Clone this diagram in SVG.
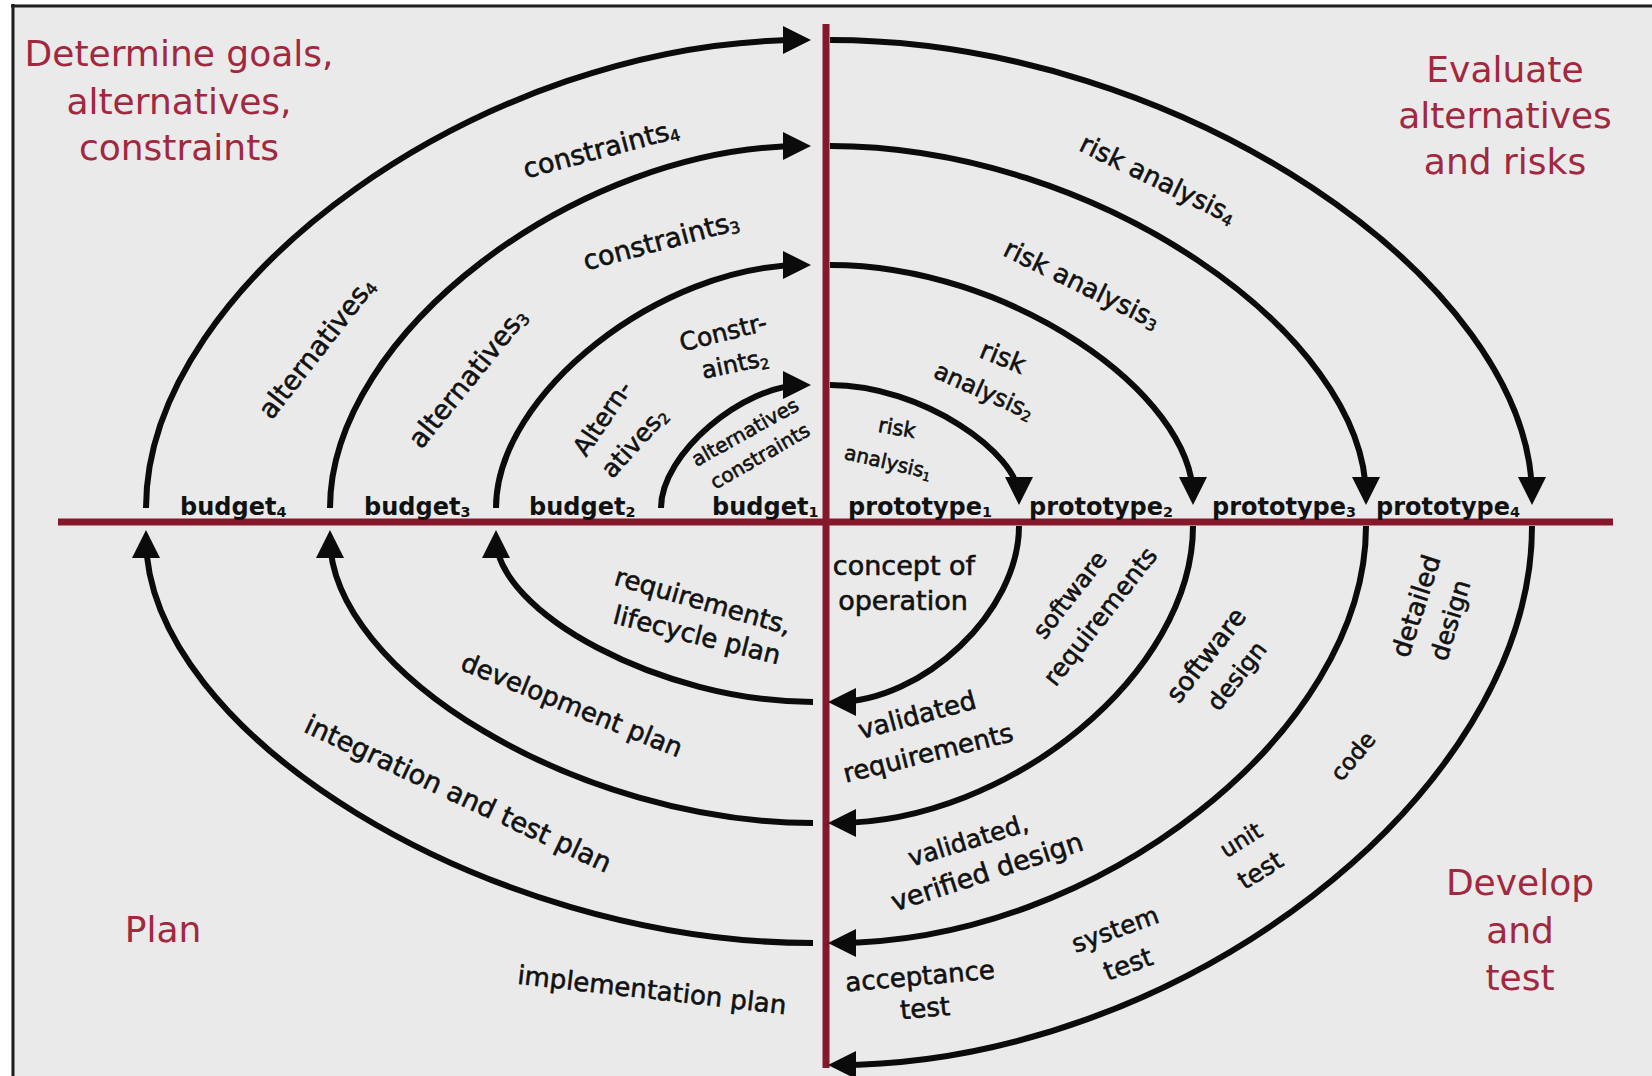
<svg xmlns="http://www.w3.org/2000/svg" width="1652" height="1076" viewBox="0 0 1652 1076">
<style>
.arc{fill:none;stroke:#0b0b0b;stroke-width:6;marker-end:url(#ah)}
.axis{stroke:#86182c;stroke-width:7}
.title{font-family:"DejaVu Sans",sans-serif;font-size:36px;fill:#a1283e;text-anchor:middle}
.lbl{font-family:"DejaVu Sans",sans-serif;font-size:26px;fill:#111;stroke:#111;stroke-width:0.6;text-anchor:middle}
.ax{font-family:"DejaVu Sans",sans-serif;font-weight:bold;font-size:24px;fill:#111}
.sub{font-size:60%}
</style>
<defs>
<marker id="ah" markerUnits="userSpaceOnUse" markerWidth="28" markerHeight="28" viewBox="0 0 28 28" refX="20" refY="14" orient="auto">
<path d="M0,0 L28,14 L0,28 z" fill="#0b0b0b"/>
</marker>
</defs>
<rect x="0" y="0" width="1652" height="1076" fill="#ffffff"/>
<rect x="11" y="4" width="1641" height="1072" fill="#eaeaea"/>
<line x1="11" y1="6" x2="1652" y2="6" stroke="#1e1e1e" stroke-width="3"/>
<line x1="13" y1="4" x2="13" y2="1076" stroke="#1e1e1e" stroke-width="3"/>

<g id="axes">
<line class="axis" x1="58" y1="522" x2="1613" y2="522"/>
<line class="axis" x1="826" y1="24" x2="826" y2="1068"/>
</g>

<g id="connectors">
<path class="arc" d="M661,508 C661,453.5 743.5,385 803,385"/>
<path class="arc" d="M830,385 C922.5,385 1019,453.5 1019,497"/>
<path class="arc" d="M1019,526 C1019,612 922.5,702 836,702"/>
<path class="arc" d="M813,702 C661,702 496,612 496,538"/>
<path class="arc" d="M496,508 C496,393.5 661,265 803,265"/>
<path class="arc" d="M830,265 C1009.5,265 1193,393.5 1193,497"/>
<path class="arc" d="M1193,526 C1193,672.5 1009.5,823 836,823"/>
<path class="arc" d="M813,823 C578,823 330,672.5 330,538"/>
<path class="arc" d="M330,508 C330,334 578,146 803,146"/>
<path class="arc" d="M830,146 C1096,146 1366,334 1366,497"/>
<path class="arc" d="M1366,526 C1366,732.5 1096,943 836,943"/>
<path class="arc" d="M813,943 C486,943 146,732.5 146,538"/>
<path class="arc" d="M146,508 C146,281 486,40 803,40"/>
<path class="arc" d="M830,40 C1179,40 1532,281 1532,497"/>
<path class="arc" d="M1532,526 C1532,793.5 1179,1065 836,1065"/>
</g>

<g id="q-determine"><text class="title" x="179" y="66">Determine goals,</text><text class="title" x="179" y="114">alternatives,</text><text class="title" x="179" y="160">constraints</text></g>
<g id="q-evaluate"><text class="title" x="1505" y="82">Evaluate</text><text class="title" x="1505" y="128">alternatives</text><text class="title" x="1505" y="174">and risks</text></g>
<g id="q-plan"><text class="title" x="163" y="942">Plan</text></g>
<g id="q-develop"><text class="title" x="1520" y="895">Develop</text><text class="title" x="1520" y="943">and</text><text class="title" x="1520" y="990">test</text></g>

<g id="budget4"><text class="ax" x="180" y="515">budget<tspan class="sub" dy="2">4</tspan></text></g>
<g id="budget3"><text class="ax" x="364" y="515">budget<tspan class="sub" dy="2">3</tspan></text></g>
<g id="budget2"><text class="ax" x="529" y="515">budget<tspan class="sub" dy="2">2</tspan></text></g>
<g id="budget1"><text class="ax" x="712" y="515">budget<tspan class="sub" dy="2">1</tspan></text></g>
<g id="prototype1"><text class="ax" x="848" y="515">prototype<tspan class="sub" dy="2">1</tspan></text></g>
<g id="prototype2"><text class="ax" x="1029" y="515">prototype<tspan class="sub" dy="2">2</tspan></text></g>
<g id="prototype3"><text class="ax" x="1212" y="515">prototype<tspan class="sub" dy="2">3</tspan></text></g>
<g id="prototype4"><text class="ax" x="1376" y="515">prototype<tspan class="sub" dy="2">4</tspan></text></g>

<g id="constraints4"><text class="lbl" style="font-size:27px" transform="translate(601,149) rotate(-15)" y="9">constraints<tspan class="sub" dy="3">4</tspan></text></g>
<g id="constraints3"><text class="lbl" style="font-size:27px" transform="translate(661,241) rotate(-15)" y="9">constraints<tspan class="sub" dy="3">3</tspan></text></g>
<g id="alternatives4"><text class="lbl" style="font-size:27px" transform="translate(317,348) rotate(-52)" y="9">alternatives<tspan class="sub" dy="3">4</tspan></text></g>
<g id="alternatives3"><text class="lbl" style="font-size:27px" transform="translate(468,378) rotate(-51)" y="9">alternatives<tspan class="sub" dy="3">3</tspan></text></g>
<g id="alternatives2"><text class="lbl" style="font-size:25px" transform="translate(602,418) rotate(-56)" y="9">Altern-</text><text class="lbl" style="font-size:25px" transform="translate(634,442) rotate(-48)" y="9">atives<tspan class="sub" dy="3">2</tspan></text></g>
<g id="constraints2"><text class="lbl" style="font-size:25px" transform="translate(723,332) rotate(-14)" y="9">Constr-</text><text class="lbl" style="font-size:24px" transform="translate(735,364) rotate(-12)" y="8">aints<tspan class="sub" dy="3">2</tspan></text></g>
<g id="alt-constraints1"><text class="lbl" style="font-size:20px" transform="translate(745,432) rotate(-29)" y="7">alternatives</text><text class="lbl" style="font-size:20px" transform="translate(760,456) rotate(-30)" y="7">constraints</text></g>
<g id="risk1"><text class="lbl" style="font-size:21px" transform="translate(897,428) rotate(10)" y="7">risk</text><text class="lbl" style="font-size:20px" transform="translate(888,462) rotate(13)" y="7">analysis<tspan class="sub" dy="3">1</tspan></text></g>
<g id="risk2"><text class="lbl" transform="translate(1003,357) rotate(22)" y="9">risk</text><text class="lbl" style="font-size:24px" transform="translate(984,391) rotate(24)" y="8">analysis<tspan class="sub" dy="3">2</tspan></text></g>
<g id="risk3"><text class="lbl" transform="translate(1082,284) rotate(26)" y="9">risk analysis<tspan class="sub" dy="3">3</tspan></text></g>
<g id="risk4"><text class="lbl" transform="translate(1158,179) rotate(26)" y="9">risk analysis<tspan class="sub" dy="3">4</tspan></text></g>
<g id="req-lifecycle"><text class="lbl" transform="translate(703,601) rotate(16)" y="9">requirements,</text><text class="lbl" transform="translate(697,635) rotate(14)" y="9">lifecycle plan</text></g>
<g id="dev-plan"><text class="lbl" transform="translate(572,705) rotate(22)" y="9">development plan</text></g>
<g id="int-test-plan"><text class="lbl" style="font-size:27px" transform="translate(458,794) rotate(25)" y="9">integration and test plan</text></g>
<g id="impl-plan"><text class="lbl" transform="translate(652,990) rotate(6.5)" y="9">implementation plan</text></g>
<g id="concept"><text class="lbl" style="font-size:27px" x="904" y="575">concept of</text><text class="lbl" style="font-size:27px" x="903" y="610">operation</text></g>
<g id="sw-req"><text class="lbl" style="font-size:24px" transform="translate(1070,595) rotate(-52)" y="8">software</text><text class="lbl" style="font-size:25px" transform="translate(1100,616) rotate(-52)" y="9">requirements</text></g>
<g id="val-req"><text class="lbl" transform="translate(917,715) rotate(-15)" y="9">validated</text><text class="lbl" transform="translate(928,753) rotate(-14)" y="9">requirements</text></g>
<g id="sw-design"><text class="lbl" transform="translate(1206,655) rotate(-52)" y="9">software</text><text class="lbl" style="font-size:24px" transform="translate(1237,676) rotate(-52)" y="8">design</text></g>
<g id="det-design"><text class="lbl" transform="translate(1416,606) rotate(-72)" y="9">detailed</text><text class="lbl" style="font-size:25px" transform="translate(1450,620) rotate(-73)" y="9">design</text></g>
<g id="code"><text class="lbl" style="font-size:23px" transform="translate(1353,756) rotate(-50)" y="8">code</text></g>
<g id="val-ver-design"><text class="lbl" style="font-size:25px" transform="translate(968,840) rotate(-17)" y="9">validated,</text><text class="lbl" style="font-size:27px" transform="translate(987,872) rotate(-18)" y="9">verified design</text></g>
<g id="unit-test"><text class="lbl" style="font-size:23px" transform="translate(1241,840) rotate(-32)" y="8">unit</text><text class="lbl" style="font-size:25px" transform="translate(1260,870) rotate(-32)" y="9">test</text></g>
<g id="system-test"><text class="lbl" style="font-size:25px" transform="translate(1115,929) rotate(-20)" y="9">system</text><text class="lbl" transform="translate(1128,964) rotate(-20)" y="9">test</text></g>
<g id="acceptance-test"><text class="lbl" transform="translate(920,976) rotate(-5)" y="9">acceptance</text><text class="lbl" transform="translate(925,1008) rotate(-5)" y="9">test</text></g>
</svg>
